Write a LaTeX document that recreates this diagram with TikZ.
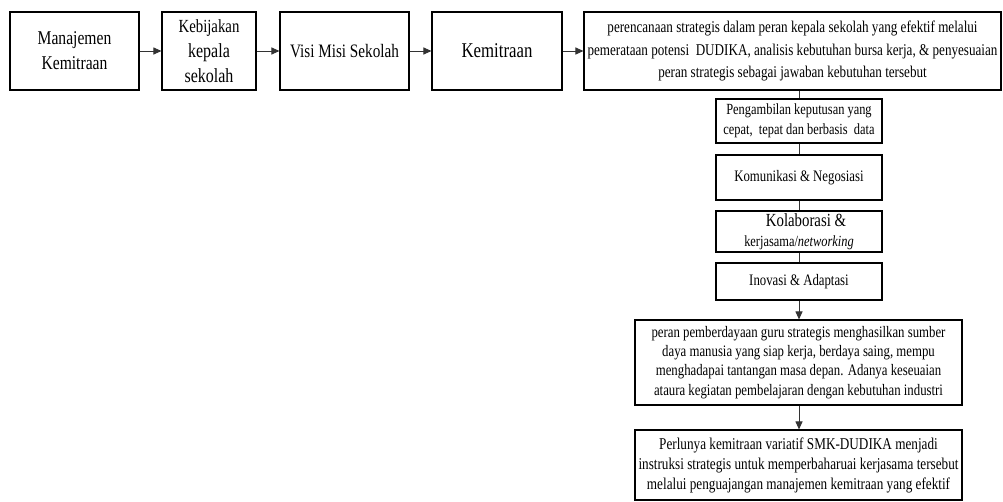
\documentclass[tikz,border=0pt]{standalone}
\usepackage{fontspec}
\setmainfont{Liberation Serif}[FakeStretch=0.8]
\usetikzlibrary{arrows.meta}
\tikzset{
  box/.style={draw=black, line width=1.1pt, rectangle, inner sep=0pt, align=center, text=black},
  conn/.style={draw=black!80, line width=1pt},
  arr/.style={conn, -{Triangle[length=8pt,width=7pt]}},
}
\begin{document}
\begin{tikzpicture}[x=1pt,y=-1pt]
\useasboundingbox (0,0) rectangle (1003,501);
\node[box, minimum width=129pt, minimum height=78pt, font=\fontsize{19.5}{25}\selectfont] (b1) at (74.5,51) {Manajemen\\Kemitraan};
\node[box, minimum width=94pt, minimum height=78pt, font=\fontsize{20}{25}\selectfont] (b2) at (209,51) {{\fontsize{18.5}{25}\selectfont Kebijakan}\\kepala\\sekolah};
\node[box, minimum width=129pt, minimum height=78pt, font=\fontsize{19}{25}\selectfont] (b3) at (344.5,51) {Visi Misi Sekolah};
\node[box, minimum width=130pt, minimum height=78pt, font=\fontsize{21}{25}\selectfont] (b4) at (497,51) {Kemitraan};
\node[box, minimum width=417pt, minimum height=78pt, font=\fontsize{16.4}{22.5}\selectfont] (b5) at (792.5,51) {perencanaan strategis dalam peran kepala sekolah yang efektif melalui\\pemerataan potensi \ DUDIKA, analisis kebutuhan bursa kerja, \& penyesuaian\\peran strategis sebagai jawaban kebutuhan tersebut};
\node[box, minimum width=166pt, minimum height=44pt, font=\fontsize{15.5}{20.5}\selectfont] (b6) at (799,121) {Pengambilan keputusan yang\\cepat, \ tepat dan berbasis \ data};
\node[box, minimum width=166pt, minimum height=45pt, font=\fontsize{16}{20}\selectfont] (b7) at (799,177.5) {Komunikasi \& Negosiasi};
\node[box, minimum width=166pt, minimum height=41pt, font=\fontsize{15.5}{20}\selectfont] (b8) at (799,231.5) {\hspace*{14pt}{\fontsize{18.5}{20}\selectfont Kolaborasi \&}\\kerjasama/\textit{networking}};
\node[box, minimum width=166pt, minimum height=37pt, font=\fontsize{16}{20}\selectfont] (b9) at (799,281.5) {Inovasi \& Adaptasi};
\node[box, minimum width=327pt, minimum height=85pt, font=\fontsize{16}{19.3}\selectfont] (b10) at (798.5,362.5) {peran pemberdayaan guru strategis menghasilkan sumber\\daya manusia yang siap kerja, berdaya saing, mempu\\menghadapai tantangan masa depan. Adanya keseuaian\\ataura kegiatan pembelajaran dengan kebutuhan industri};
\node[box, minimum width=327pt, minimum height=70pt, font=\fontsize{16.5}{20}\selectfont] (b11) at (798.5,465) {Perlunya kemitraan variatif SMK-DUDIKA menjadi\\instruksi strategis untuk memperbaharuai kerjasama tersebut\\melalui penguajangan manajemen kemitraan yang efektif};
\draw[arr] (b1) -- (b2);
\draw[arr] (b2) -- (b3);
\draw[arr] (b3) -- (b4);
\draw[arr] (b4) -- (b5);
\draw[conn] (b6.north |- b5.south) -- (b6.north);
\draw[conn] (b6) -- (b7);
\draw[conn] (b7) -- (b8);
\draw[conn] (b8) -- (b9);
\draw[arr] (b9.south) -- (b10.north -| b9.south);
\draw[arr] (b10.south -| b9.south) -- (b11.north -| b9.south);
\end{tikzpicture}
\end{document}
